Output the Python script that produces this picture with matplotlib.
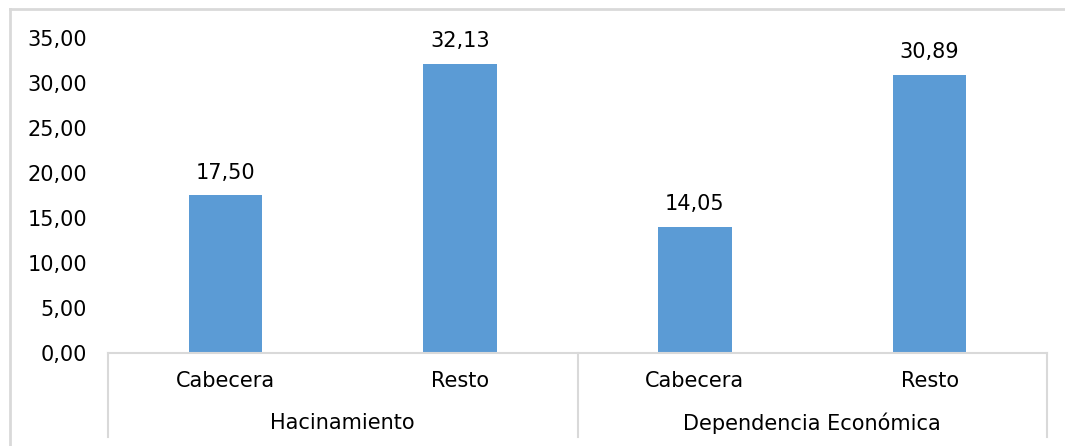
import matplotlib.pyplot as plt
from matplotlib.lines import Line2D
import matplotlib.transforms as mtransforms

categorias = ['Cabecera', 'Resto', 'Cabecera', 'Resto']
grupos = ['Hacinamiento', 'Dependencia Económica']
valores = [17.50, 32.13, 14.05, 30.89]
yticks = [0, 5, 10, 15, 20, 25, 30, 35]

W, H = 1065, 446
fs = 15
fig = plt.figure(figsize=(W / 100, H / 100), dpi=100)
ax = fig.add_axes([108 / W, 1 - 353 / H, (1047 - 108) / W, (353 - 38) / H])

x = list(range(len(valores)))
ax.bar(x, valores, width=0.314, color='#5B9BD5')
for xi, v in zip(x, valores):
    ax.annotate(f'{v:.2f}'.replace('.', ','), (xi, v), xytext=(0, 9),
                textcoords='offset points', ha='center', va='bottom',
                fontsize=fs, color='#000000')

ax.set_xlim(-0.5, len(valores) - 0.5)
ax.set_ylim(0, 35)
ax.set_yticks(yticks)
ax.set_yticklabels([f'{t:.2f}'.replace('.', ',') for t in yticks], fontsize=fs)
ax.tick_params(axis='y', length=0, pad=15)
ax.set_xticks([])
for s in ['top', 'right', 'left']:
    ax.spines[s].set_visible(False)
ax.spines['bottom'].set_color('#d9d9d9')
ax.spines['bottom'].set_linewidth(1.5)

# etiquetas de categorias multinivel
trans = mtransforms.blended_transform_factory(ax.transData, ax.transAxes)
for xi, c in zip(x, categorias):
    ax.text(xi, -0.089, c, transform=trans, ha='center', va='center', fontsize=fs)
for gi, g in enumerate(grupos):
    ax.text(2 * gi + 0.5, -0.222, g, transform=trans, ha='center', va='center', fontsize=fs)
for sx in [-0.5, 1.5, 3.5]:
    ax.add_line(Line2D([sx, sx], [0, -0.267], transform=trans, color='#d9d9d9',
                       lw=1.5, clip_on=False))

# borde del area del grafico
fig.add_artist(Line2D([9.5 / W, 1], [1 - 8.5 / H, 1 - 8.5 / H], color='#d9d9d9', lw=2))
fig.add_artist(Line2D([9.5 / W, 9.5 / W], [0, 1 - 8.5 / H], color='#d9d9d9', lw=2))

fig.savefig('out.png', dpi=100)
